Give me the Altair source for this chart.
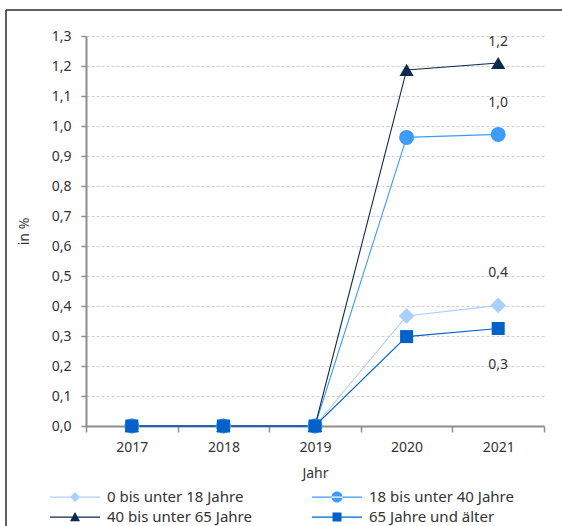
import altair as alt
import pandas as pd

# Jahre und Altersgruppen
years = ["2017", "2018", "2019", "2020", "2021"]
series = [
    "0 bis unter 18 Jahre",
    "18 bis unter 40 Jahre",
    "40 bis unter 65 Jahre",
    "65 Jahre und älter",
]

# Anteile in %
vals_0_18 = [0.0, 0.0, 0.0, 0.367, 0.402]
vals_18_40 = [0.0, 0.0, 0.0, 0.962, 0.972]
vals_40_65 = [0.0, 0.0, 0.0, 1.187, 1.210]
vals_65 = [0.0, 0.0, 0.0, 0.298, 0.325]

all_vals = [vals_0_18, vals_18_40, vals_40_65, vals_65]

colors = ["#a9cffc", "#3d9bfa", "#0c2a4e", "#0061c8"]
shapes = ["diamond", "circle", "triangle-up", "square"]
sizes = [250, 225, 200, 170]
label_dy = [-32, -31, -21, 36]

rows = []
for s, vals in zip(series, all_vals):
    for y, v in zip(years, vals):
        rows.append({"Jahr": y, "Gruppe": s, "Wert": v})
df = pd.DataFrame(rows)

FONT = "Noto Sans"
TXT = "#333333"
AXC = "#8e8e8e"

x_enc = alt.X(
    "Jahr:O",
    scale=alt.Scale(type="band", domain=years, paddingInner=0, paddingOuter=0),
    axis=alt.Axis(
        title="Jahr", labelAngle=0, tickBand="extent", grid=False,
        labelPadding=8, titlePadding=12, tickSize=6,
    ),
)
y_enc = alt.Y(
    "Wert:Q",
    scale=alt.Scale(domain=[0, 1.3], nice=False),
    axis=alt.Axis(
        title="in %",
        values=[round(i * 0.1, 1) for i in range(14)],
        labelExpr="replace(format(datum.value, '.1f'), '.', ',')",
        labelPadding=10, titlePadding=20, tickSize=5,
        gridDash=[3, 2], gridColor="#cfcfcf", gridWidth=1,
    ),
)

base = alt.Chart(df)

layers = []
# Linien und Markierungen je Altersgruppe
for s, c in zip(series, colors):
    sub = base.transform_filter(alt.datum.Gruppe == s)
    layers.append(
        sub.mark_line(color=c, strokeWidth=1.1).encode(x=x_enc, y=y_enc)
    )
for s, c, sh, sz in zip(series, colors, shapes, sizes):
    sub = base.transform_filter(alt.datum.Gruppe == s)
    layers.append(
        sub.mark_point(shape=sh, size=sz, filled=True, color=c, opacity=1).encode(
            x=x_enc, y=y_enc
        )
    )

# Wertbeschriftungen für 2021
for s, dy in zip(series, label_dy):
    sub = base.transform_filter(
        (alt.datum.Gruppe == s) & (alt.datum.Jahr == "2021")
    ).transform_calculate(
        Label="replace(format(datum.Wert, '.1f'), '.', ',')"
    )
    layers.append(
        sub.mark_text(dy=dy, font=FONT, fontSize=14, color=TXT).encode(
            x=x_enc, y=y_enc, text="Label:N"
        )
    )

# Legendensymbole: Linie mit Markierung in der Mitte
bar = "M-1,-0.025L1,-0.025L1,0.025L-1,0.025Z "
legend_paths = [
    bar + "M0,-0.2L0.2,0L0,0.2L-0.2,0Z",
    bar + "M-0.22,0A0.22,0.22 0 1,0 0.22,0A0.22,0.22 0 1,0 -0.22,0Z",
    bar + "M0,-0.2L0.2,0.17L-0.2,0.17Z",
    bar + "M-0.18,-0.18L0.18,-0.18L0.18,0.18L-0.18,0.18Z",
]
# Legende spaltenweise gefüllt: links 0–18 / 40–65, rechts 18–40 / 65+
order = [0, 2, 1, 3]
leg_domain = [series[i] for i in order]
leg_colors = [colors[i] for i in order]
leg_paths = [legend_paths[i] for i in order]

leg = alt.Legend(
    title=None, orient="none", legendX=-36, legendY=451, columns=2,
    symbolSize=2500, clipHeight=20, rowPadding=0, columnPadding=60,
    labelOffset=7, padding=0, labelFont=FONT, labelFontSize=15,
    labelColor=TXT, symbolStrokeWidth=0, labelLimit=300,
)
legend_layer = base.transform_filter(alt.datum.Wert < -100).mark_point(
    filled=True, opacity=1
).encode(
    x=x_enc,
    y=y_enc,
    color=alt.Color("Gruppe:N", scale=alt.Scale(domain=leg_domain, range=leg_colors), legend=leg),
    shape=alt.Shape("Gruppe:N", scale=alt.Scale(domain=leg_domain, range=leg_paths), legend=leg),
)
layers.append(legend_layer)

# Rahmen links und oben
frame = alt.Data(values=[{}])
layers.append(
    alt.Chart(frame).mark_rule(color="#2b2b2b", strokeWidth=1.5).encode(
        x=alt.value(-80), y=alt.value(-26), y2=alt.value(500)
    )
)
layers.append(
    alt.Chart(frame).mark_rule(color="#2b2b2b", strokeWidth=1.5).encode(
        x=alt.value(-80), x2=alt.value(480), y=alt.value(-26)
    )
)

chart = alt.layer(*layers).properties(
    width=458,
    height=390,
    background="white",
    autosize=alt.AutoSizeParams(type="none"),
    padding={"left": 86, "top": 36, "right": 18, "bottom": 100},
).configure_view(
    stroke=None
).configure_axis(
    labelFont=FONT, titleFont=FONT, labelFontSize=14, titleFontSize=14,
    labelColor=TXT, titleColor=TXT, titleFontWeight="normal",
    domainColor=AXC, tickColor=AXC, domainWidth=2, tickWidth=1.5,
)

chart.save("out.html", embed_options={"renderer": "svg", "actions": False})
